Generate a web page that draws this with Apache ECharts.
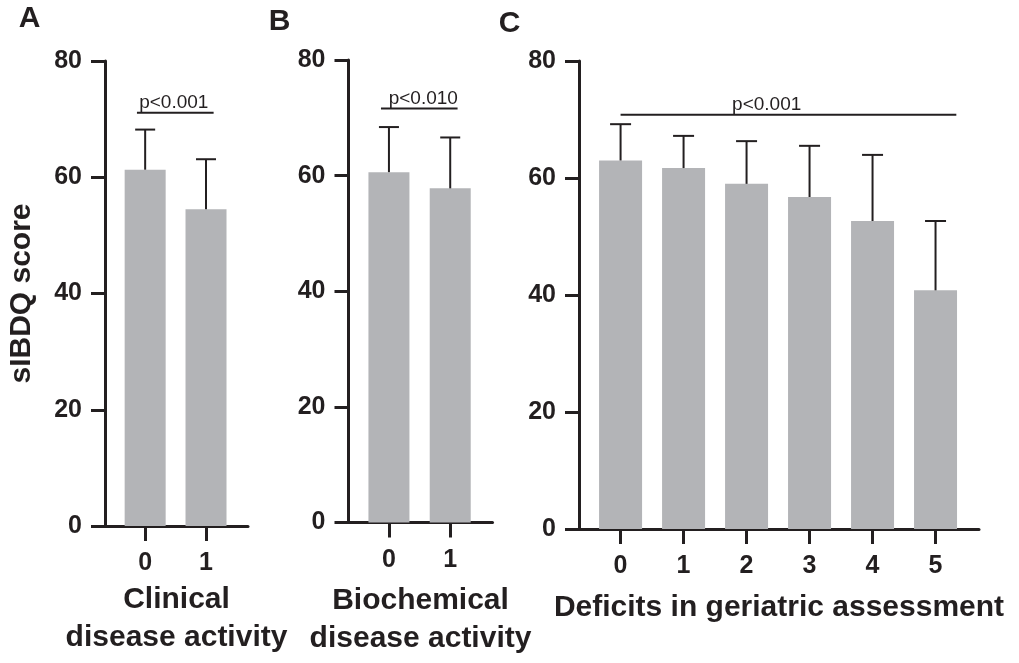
<!DOCTYPE html>
<html>
<head>
<meta charset="utf-8">
<script src="https://cdn.jsdelivr.net/npm/echarts@6/dist/echarts.min.js"></script>
<style>
html,body{margin:0;padding:0;background:#fff;}
#chart{width:1019px;height:663px;}
</style>
</head>
<body>
<div id="chart"></div>
<script>
// ---- data ----
const catsA = ['0', '1'];
const meanA = [61.3, 54.5];
const sdA = [6.9, 8.6];

const catsB = ['0', '1'];
const meanB = [60.6, 57.8];
const sdB = [7.8, 8.8];

const catsC = ['0', '1', '2', '3', '4', '5'];
const meanC = [63.0, 61.7, 59.0, 56.75, 52.65, 40.8];
const sdC = [6.2, 5.5, 7.3, 8.75, 11.3, 11.85];

const yTicks = [0, 20, 40, 60, 80];
const panelLetters = ['A', 'B', 'C'];
const axisTitles = ['Clinical\ndisease activity', 'Biochemical\ndisease activity', 'Deficits in geriatric assessment'];
const yTitle = 'sIBDQ score';

// significance brackets (in data units)
const sigText = ['p<0.001', 'p<0.010', 'p<0.001'];
const sigFrom = [-0.135, -0.13, 0];
const sigTo = [1.125, 1.12, 5.33];
const sigY = [71.1, 71.6, 70.8];
const sigTextX = [0.47, 0.56, 2.32];

// ---- layout ----
const INK = '#231f20';
const BAR = '#b3b4b7';
const FONT = '"Liberation Sans", Arial, Helvetica, sans-serif';

const panels = [
  {cats: catsA, mean: meanA, sd: sdA, grid: {left: 105, top: 61, width: 143, height: 465}, barWidth: 41, cap: 10, nameGap: 54},
  {cats: catsB, mean: meanB, sd: sdB, grid: {left: 348.5, top: 60, width: 144, height: 467}, barWidth: 41, cap: 10, nameGap: 59.5},
  {cats: catsC, mean: meanC, sd: sdC, grid: {left: 579, top: 61, width: 400, height: 468}, barWidth: 43, cap: 10.5, nameGap: 59.5}
];

const grids = [], xAxes = [], yAxes = [], series = [];
panels.forEach((p, i) => {
  grids.push(Object.assign({}, p.grid, {containLabel: false}));
  const idxs = p.cats.map((c, k) => k);
  xAxes.push({
    type: 'value', gridIndex: i,
    min: -0.66, max: p.cats.length - 1 + 0.69,
    splitLine: {show: false},
    axisLine: {show: true, onZero: false, lineStyle: {color: INK, width: 3}},
    axisTick: {show: true, customValues: idxs, length: 15, lineStyle: {color: INK, width: 3}},
    axisLabel: {show: true, customValues: idxs, margin: 25, color: INK, fontSize: 25, fontWeight: 'bold', fontFamily: FONT,
      formatter: v => p.cats[Math.round(v)]},
    name: axisTitles[i], nameLocation: 'middle', nameGap: p.nameGap,
    nameTextStyle: {color: INK, fontSize: 30, fontWeight: 'bold', fontFamily: FONT, lineHeight: 38}
  });
  const y = {
    type: 'value', gridIndex: i, min: 0, max: 80, interval: 20,
    splitLine: {show: false},
    axisLine: {show: true, onZero: false, lineStyle: {color: INK, width: 3}},
    axisTick: {show: true, length: 14, lineStyle: {color: INK, width: 3}},
    axisLabel: {margin: 23, color: INK, fontSize: 25, fontWeight: 'bold', fontFamily: FONT}
  };
  if (i === 0) {
    y.name = yTitle; y.nameLocation = 'middle'; y.nameGap = 68;
    y.nameTextStyle = {color: INK, fontSize: 30, fontWeight: 'bold', fontFamily: FONT};
  }
  yAxes.push(y);

  series.push({
    type: 'bar', xAxisIndex: i, yAxisIndex: i,
    barWidth: p.barWidth,
    itemStyle: {color: BAR},
    data: p.mean.map((m, k) => [k, m]),
    silent: true, z: 2
  });
  series.push({
    type: 'custom', xAxisIndex: i, yAxisIndex: i, silent: true, z: 3,
    data: p.mean.map((m, k) => [k, m, p.sd[k]]),
    renderItem: (params, api) => {
      const x = api.value(0), m = api.value(1), s = api.value(2);
      const p0 = api.coord([x, m]);
      const p1 = api.coord([x, m + s]);
      return {type: 'group', children: [
        {type: 'line', shape: {x1: p0[0], y1: p0[1], x2: p1[0], y2: p1[1]}, style: {stroke: INK, lineWidth: 2}},
        {type: 'line', shape: {x1: p1[0] - p.cap, y1: p1[1], x2: p1[0] + p.cap, y2: p1[1]}, style: {stroke: INK, lineWidth: 2}}
      ]};
    }
  });
  series.push({
    type: 'custom', xAxisIndex: i, yAxisIndex: i, silent: true, z: 4,
    data: [[sigFrom[i], sigY[i], sigTo[i], sigTextX[i]]],
    renderItem: (params, api) => {
      const a = api.coord([api.value(0), api.value(1)]);
      const b = api.coord([api.value(2), api.value(1)]);
      const t = api.coord([api.value(3), api.value(1)]);
      return {type: 'group', children: [
        {type: 'line', shape: {x1: a[0], y1: a[1], x2: b[0], y2: b[1]}, style: {stroke: INK, lineWidth: 2}},
        {type: 'text', x: t[0], y: a[1] - 0.5, style: {text: sigText[i], fill: INK, font: '19px ' + FONT, textAlign: 'center', textVerticalAlign: 'bottom'}}
      ]};
    }
  });
});

const letterPos = [[29.5, 19], [279.5, 22], [509.5, 24]];
const graphics = panelLetters.map((L, i) => ({
  type: 'text', x: letterPos[i][0], y: letterPos[i][1],
  style: {text: L, fill: INK, font: 'bold 30px ' + FONT, textAlign: 'center', textVerticalAlign: 'middle'}
}));

const chart = echarts.init(document.getElementById('chart'), null, {renderer: 'canvas'});
chart.setOption({
  animation: false,
  backgroundColor: '#fff',
  grid: grids,
  xAxis: xAxes,
  yAxis: yAxes,
  series: series,
  graphic: graphics
});
</script>
</body>
</html>
